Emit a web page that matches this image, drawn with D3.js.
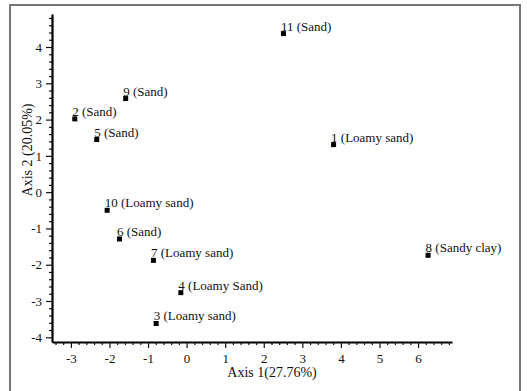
<!DOCTYPE html>
<html>
<head>
<meta charset="utf-8">
<script src="https://cdn.jsdelivr.net/npm/d3@7"></script>
<style>
  body { margin: 0; background: #fff; }
  svg text { font-family: "Liberation Serif", "Times New Roman", serif; fill: #111; }
</style>
</head>
<body>
<div id="graph"></div>
<script>
const width = 527, height = 391;

// sample ids, soil texture, PCA scores
const ids = ["1", "2", "3", "4", "5", "6", "7", "8", "9", "10", "11"];
const textures = ["Loamy sand", "Sand", "Loamy sand", "Loamy Sand", "Sand", "Sand",
  "Loamy sand", "Sandy clay", "Sand", "Loamy sand", "Sand"];
const axis1 = [3.81, -2.90, -0.79, -0.15, -2.33, -1.74, -0.86, 6.26, -1.58, -2.06, 2.51];
const axis2 = [1.31, 2.02, -3.62, -2.77, 1.45, -1.29, -1.88, -1.74, 2.58, -0.50, 4.37];
const xTicks = [-3, -2, -1, 0, 1, 2, 3, 4, 5, 6];
const yTicks = [-4, -3, -2, -1, 0, 1, 2, 3, 4];

const svg = d3.select("#graph").
append("svg").
attr("width", width).
attr("height", height);

// outer frame
svg.append("rect").
attr("x", 10).attr("y", 5).
attr("width", 510).attr("height", 392).
attr("fill", "none").
attr("stroke", "#777").
attr("stroke-width", 2);

const xScale = d3.scaleLinear().domain([-3.49, 6.88]).range([52, 452]);
const yScale = d3.scaleLinear().domain([-4.13, 4.91]).range([342, 14]);

const xMinor = d3.range(-34, 69, 2).map(d => d / 10).filter(d => !Number.isInteger(d));
const yMinor = d3.range(-40, 49, 2).map(d => d / 10).filter(d => !Number.isInteger(d));

// minor ticks
svg.append("g").
attr("transform", "translate(0," + 342 + ")").
call(d3.axisBottom(xScale).tickValues(xMinor).tickSize(3).tickSizeOuter(0).tickFormat("")).
call(g => g.select(".domain").remove()).
selectAll("line").attr("stroke", "#111").attr("stroke-width", 1.2);
svg.append("g").
attr("transform", "translate(" + 52 + ",0)").
call(d3.axisLeft(yScale).tickValues(yMinor).tickSize(3).tickSizeOuter(0).tickFormat("")).
call(g => g.select(".domain").remove()).
selectAll("line").attr("stroke", "#111").attr("stroke-width", 1.2);

// major axes
const fmt = d => String(d);
const xAxis = svg.append("g").
attr("transform", "translate(0," + 342 + ")").
call(d3.axisBottom(xScale).tickValues(xTicks).tickFormat(fmt).tickSize(6).tickSizeOuter(0).tickPadding(6));
const yAxis = svg.append("g").
attr("transform", "translate(" + 52 + ",0)").
call(d3.axisLeft(yScale).tickValues(yTicks).tickFormat(fmt).tickSize(6).tickSizeOuter(0).tickPadding(4));

[xAxis, yAxis].forEach(a => {
  a.attr("font-family", null);
  a.select(".domain").attr("stroke", "#000").attr("stroke-width", 2.2);
  a.selectAll(".tick line").attr("stroke", "#111").attr("stroke-width", 1.2);
  a.selectAll(".tick text").
  style("font-family", '"Liberation Serif", serif').
  style("font-size", "13px").
  attr("fill", "#111");
});

// axis titles
svg.append("text").
attr("x", 272).attr("y", 377).
attr("text-anchor", "middle").
style("font-size", "14px").
text("Axis 1(27.76%)");
svg.append("text").
attr("transform", "translate(32,150) rotate(-90)").
attr("text-anchor", "middle").
style("font-size", "14px").
text("Axis 2 (20.05%)");

// points
const pts = svg.append("g").selectAll("g").
data(ids).
enter().
append("g");

pts.append("rect").
attr("x", (d, i) => xScale(axis1[i]) - 2.5).
attr("y", (d, i) => yScale(axis2[i]) - 2.5).
attr("width", 5).
attr("height", 5).
attr("fill", "#000");

pts.append("text").
attr("x", (d, i) => xScale(axis1[i]) - 2.5).
attr("y", (d, i) => yScale(axis2[i]) - 3).
style("font-size", "13px").
text((d, i) => d + " (" + textures[i] + ")");
</script>
</body>
</html>
